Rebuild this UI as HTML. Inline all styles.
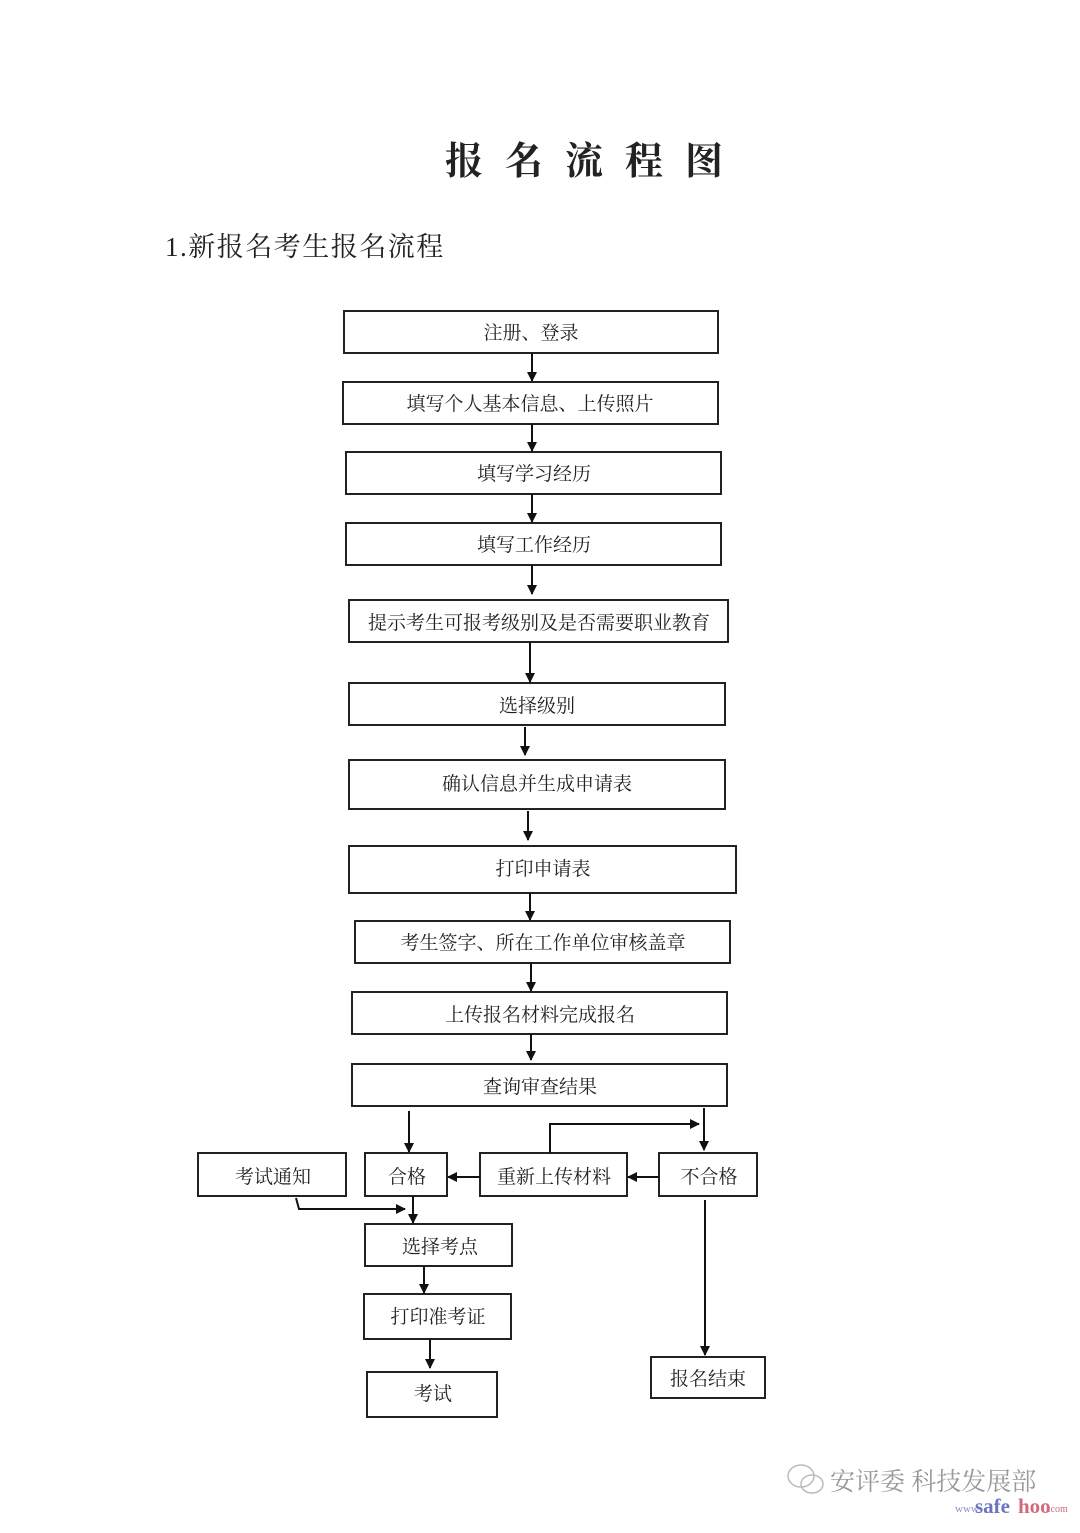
<!DOCTYPE html>
<html><head><meta charset="utf-8"><style>
body{margin:0;background:#fff;width:1080px;height:1528px;overflow:hidden}
svg text{font-family:"Liberation Serif","Noto Serif CJK SC","Noto Sans CJK SC",serif;fill:#222}
</style></head><body>
<svg width="1080" height="1528" viewBox="0 0 1080 1528" xmlns="http://www.w3.org/2000/svg">
<defs><marker id="a" markerWidth="10" markerHeight="10" refX="9" refY="5" orient="auto" markerUnits="userSpaceOnUse"><path d="M0,0 L10,5 L0,10 z" fill="#111"/></marker></defs>
<text x="445" y="174" font-size="38" font-weight="bold" letter-spacing="22">报名流程图</text>
<text x="165" y="256" font-size="27" letter-spacing="1.5">1.新报名考生报名流程</text>
<g fill="none" stroke="#222" stroke-width="2">
<rect x="344" y="311" width="374" height="42"/>
<rect x="343" y="382" width="375" height="42"/>
<rect x="346" y="452" width="375" height="42"/>
<rect x="346" y="523" width="375" height="42"/>
<rect x="349" y="600" width="379" height="42"/>
<rect x="349" y="683" width="376" height="42"/>
<rect x="349" y="760" width="376" height="49"/>
<rect x="349" y="846" width="387" height="47"/>
<rect x="355" y="921" width="375" height="42"/>
<rect x="352" y="992" width="375" height="42"/>
<rect x="352" y="1064" width="375" height="42"/>
<rect x="198" y="1153" width="148" height="43"/>
<rect x="365" y="1153" width="82" height="43"/>
<rect x="480" y="1153" width="147" height="43"/>
<rect x="659" y="1153" width="98" height="43"/>
<rect x="365" y="1224" width="147" height="42"/>
<rect x="364" y="1294" width="147" height="45"/>
<rect x="367" y="1372" width="130" height="45"/>
<rect x="651" y="1357" width="114" height="41"/>
</g>
<g stroke="#111" stroke-width="2" fill="none" marker-end="url(#a)">
<line x1="532" y1="353" x2="532" y2="381"/>
<line x1="532" y1="424" x2="532" y2="451"/>
<line x1="532" y1="494" x2="532" y2="522"/>
<line x1="532" y1="565" x2="532" y2="594"/>
<line x1="530" y1="642" x2="530" y2="682"/>
<line x1="525" y1="727" x2="525" y2="755"/>
<line x1="528" y1="811" x2="528" y2="840"/>
<line x1="530" y1="893" x2="530" y2="920"/>
<line x1="531" y1="963" x2="531" y2="991"/>
<line x1="531" y1="1034" x2="531" y2="1060"/>
<line x1="409" y1="1111" x2="409" y2="1152"/>
<line x1="704" y1="1108" x2="704" y2="1150"/>
<polyline points="550,1153 550,1124 699,1124"/>
<line x1="480" y1="1177" x2="448" y2="1177"/>
<line x1="659" y1="1177" x2="628" y2="1177"/>
<polyline points="296,1198 299,1209 405,1209"/>
<line x1="413" y1="1196" x2="413" y2="1223"/>
<line x1="424" y1="1266" x2="424" y2="1293"/>
<line x1="430" y1="1339" x2="430" y2="1368"/>
<line x1="705" y1="1200" x2="705" y2="1355"/>
</g>
<g font-size="19" text-anchor="middle">
<text x="531" y="339">注册、登录</text>
<text x="530" y="410">填写个人基本信息、上传照片</text>
<text x="534" y="480">填写学习经历</text>
<text x="534" y="551">填写工作经历</text>
<text x="539" y="629">提示考生可报考级别及是否需要职业教育</text>
<text x="537" y="712">选择级别</text>
<text x="537" y="790">确认信息并生成申请表</text>
<text x="543" y="875">打印申请表</text>
<text x="543" y="949">考生签字、所在工作单位审核盖章</text>
<text x="540" y="1021">上传报名材料完成报名</text>
<text x="540" y="1093">查询审查结果</text>
<text x="273" y="1183">考试通知</text>
<text x="407" y="1183">合格</text>
<text x="554" y="1183">重新上传材料</text>
<text x="709" y="1183">不合格</text>
<text x="440" y="1253">选择考点</text>
<text x="438" y="1323">打印准考证</text>
<text x="433" y="1400">考试</text>
<text x="708" y="1385">报名结束</text>
</g>
<g fill="none" stroke="#bbb" stroke-width="1.5"><ellipse cx="801" cy="1476" rx="13" ry="11"/><ellipse cx="812" cy="1484" rx="11" ry="9"/></g>
<text x="830" y="1490" font-size="25" style="fill:#999">安评委 科技发展部</text>
<text x="955" y="1512" font-size="11" style="fill:#8a90c8">www</text>
<text x="975" y="1513" font-size="21" font-weight="bold" style="fill:#6a74c0">safe</text>
<text x="1018" y="1513" font-size="21" font-weight="bold" style="fill:#d06a7a">hoo</text>
<text x="1048" y="1512" font-size="10" style="fill:#d06a7a">.com</text>
</svg>
</body></html>
